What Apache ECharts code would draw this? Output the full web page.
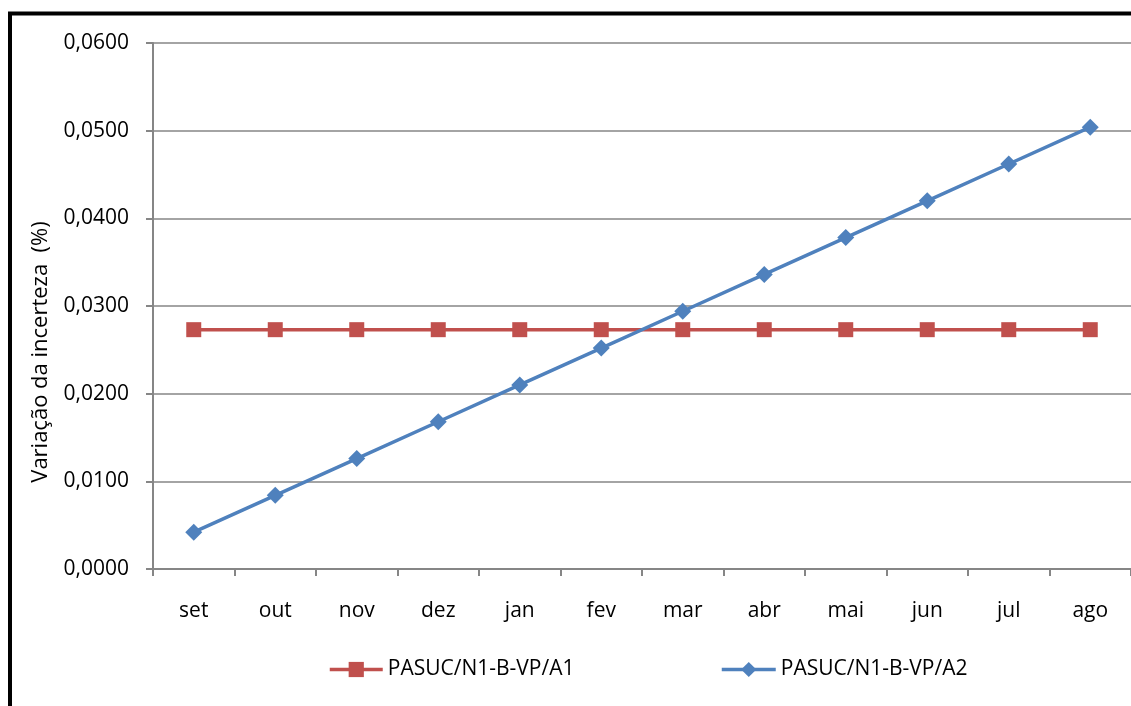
<!DOCTYPE html>
<html>
<head>
<meta charset="utf-8">
<script src="https://cdn.jsdelivr.net/npm/echarts@6/dist/echarts.min.js"></script>
<style>
html,body{margin:0;padding:0;background:#fff;}
#chart{width:1131px;height:706px;}
</style>
</head>
<body>
<div id="chart"></div>
<script>
var categories = ['set','out','nov','dez','jan','fev','mar','abr','mai','jun','jul','ago'];
var seriesA1 = [0.0273,0.0273,0.0273,0.0273,0.0273,0.0273,0.0273,0.0273,0.0273,0.0273,0.0273,0.0273];
var seriesA2 = [0.0042,0.0084,0.0126,0.0168,0.0210,0.0252,0.0294,0.0336,0.0378,0.0420,0.0462,0.0504];
var seriesNames = ['PASUC/N1-B-VP/A1','PASUC/N1-B-VP/A2'];
var yTitle = 'Variação da incerteza  (%)';

var FONT = 'Open Sans';
var FS = 21;
var chart = echarts.init(document.getElementById('chart'), null, {renderer:'canvas'});
var option = {
  animation: false,
  backgroundColor: '#fff',
  textStyle: {fontFamily: FONT},
  graphic: [{
    type: 'rect', silent: true, z: 100,
    shape: {x: 10, y: 13.5, width: 1300, height: 900},
    style: {fill: 'none', stroke: '#000', lineWidth: 4}
  },{
    type: 'text', silent: true, x: 41, y: 352, rotation: Math.PI / 2,
    style: {text: yTitle, fill: '#000', font: '22px "Open Sans"', align: 'center', verticalAlign: 'middle'}
  }],
  grid: {left: 153, top: 43, width: 980, height: 526, containLabel: false},
  legend: [{
    data: [seriesNames[0]], left: 328, top: 659, padding: 0, itemWidth: 53, itemHeight: 19,
    lineStyle: {width: 3.5},
    textStyle: {fontFamily: FONT, fontSize: 21, color: '#000'}
  },{
    data: [seriesNames[1]], left: 720, top: 659, padding: 0, itemWidth: 54, itemHeight: 19,
    lineStyle: {width: 3.5},
    textStyle: {fontFamily: FONT, fontSize: 21, color: '#000'}
  }],
  xAxis: {
    type: 'category', data: categories, boundaryGap: true,
    axisLine: {lineStyle: {color: '#868686', width: 2}},
    axisTick: {show: true, interval: 0, length: 7, lineStyle: {color: '#868686', width: 2}},
    axisLabel: {interval: 0, margin: 32, fontSize: FS, color: '#000', fontFamily: FONT},
    splitLine: {show: false}
  },
  yAxis: {
    type: 'value', min: 0, max: 0.06, interval: 0.01,
    axisLine: {show: true, lineStyle: {color: '#868686', width: 2}},
    axisTick: {show: true, length: 7, lineStyle: {color: '#868686', width: 2}},
    axisLabel: {margin: 24, fontSize: FS, color: '#000', fontFamily: FONT,
      formatter: function(v){ return v.toFixed(4).replace('.', ','); }},
    splitLine: {show: true, lineStyle: {color: '#868686', width: 1.5}}
  },
  series: [{
    name: seriesNames[0], type: 'line', data: seriesA1,
    symbol: 'rect', symbolSize: 15,
    lineStyle: {color: '#C0504D', width: 3.5},
    itemStyle: {color: '#C0504D'}
  },{
    name: seriesNames[1], type: 'line', data: seriesA2,
    symbol: 'diamond', symbolSize: 17,
    lineStyle: {color: '#4F81BD', width: 3.5},
    itemStyle: {color: '#4F81BD'}
  }]
};
chart.setOption(option);
</script>
</body>
</html>
